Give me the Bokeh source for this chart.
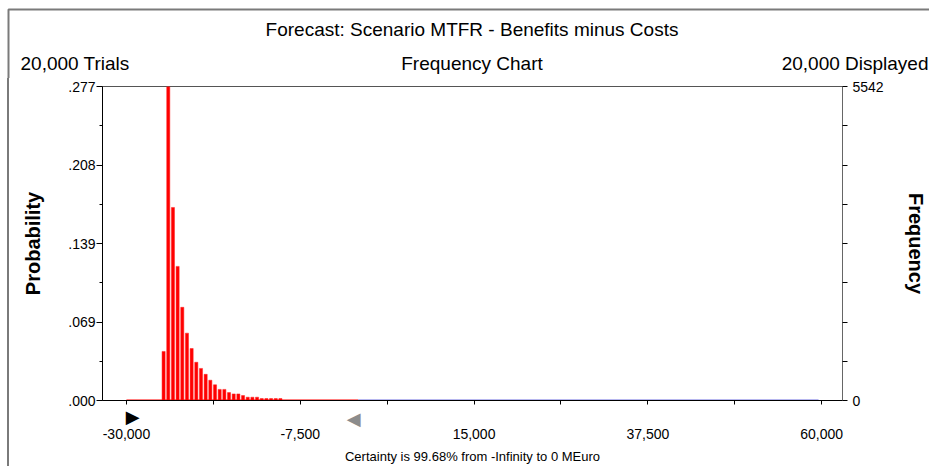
from bokeh.plotting import figure
from bokeh.layouts import column, row
from bokeh.models import Range1d, FixedTicker, LinearAxis, NumeralTickFormatter, Spacer
from bokeh.core.properties import value
from bokeh.embed import file_html
from bokeh.resources import INLINE

# ---------------- data ----------------
trials = 20000
displayed = 20000
bin_centers = [-25190, -24585, -23980, -23375, -22770, -22165, -21560, -20955,
               -20350, -19745, -19140, -18535, -17930, -17325, -16720, -16115,
               -15510, -14905, -14300, -13695, -13090, -12485, -11880, -11275,
               -10670, -10065]
frequencies = [866, 5542, 3407, 2367, 1645, 1189, 918, 675, 566, 462, 358, 277,
               196, 196, 139, 116, 116, 87, 58, 58, 58, 35, 35, 35, 35, 35]
max_freq = 5542
x_ticks = [-30000, -7500, 15000, 37500, 60000]
x_minor_ticks = [-18750, 3750, 26250, 48750]
prob_tick_labels = [".000", ".069", ".139", ".208", ".277"]
range_low = -30000        # left grabber (-Infinity shown at display min)
certainty_high = 0        # right grabber
display_high = 59600
x_view = (-33100, 62700)

title_text = "Forecast: Scenario MTFR - Benefits minus Costs"
left_sub = "20,000 Trials"
center_sub = "Frequency Chart"
right_sub = "20,000 Displayed"
certainty_text = "Certainty is 99.68% from -Infinity to 0 MEuro"

FONT = "Liberation Sans"
FRAME_GREY = "#7a7a7a"
TOTAL_W, TOTAL_H = 929, 466
HEAD_H = 78
STRIP_W = 10

# ---------------- header (titles + outer frame) ----------------
head = figure(width=TOTAL_W, height=HEAD_H, output_backend="svg", toolbar_location=None,
              x_range=Range1d(0, TOTAL_W), y_range=Range1d(HEAD_H, 0),
              x_axis_type=None, y_axis_type=None, title=None, min_border=0)
head.outline_line_color = None
head.xgrid.visible = False
head.ygrid.visible = False
head.line(x=[8, 8, TOTAL_W], y=[HEAD_H + 5, 9, 9], line_color=FRAME_GREY, line_width=2)
txt = dict(text_baseline="middle", text_font=value(FONT), text_font_size="19px",
           text_color="black")
head.text(x=[471.5], y=[29], text=[title_text], text_align="center", **txt)
head.text(x=[471.5], y=[63], text=[center_sub], text_align="center", **txt)
head.text(x=[20], y=[63], text=[left_sub], text_align="left", **txt)
head.text(x=[928], y=[63], text=[right_sub], text_align="right", **txt)

# ---------------- left strip (outer frame line, drawn with CSS) ----------------
MAIN_H = TOTAL_H - HEAD_H
strip = Spacer(width=STRIP_W, height=MAIN_H,
               styles={"background": "linear-gradient(to right, white 0px, white 7px, "
                                     "#7a7a7a 7px, #7a7a7a 9px, white 9px, white 10px)"})

# ---------------- main chart ----------------
MAIN_W = TOTAL_W - STRIP_W
p = figure(width=MAIN_W, height=MAIN_H, output_backend="svg", toolbar_location=None,
           x_range=Range1d(*x_view), y_range=Range1d(0, max_freq), title=None,
           min_border_left=102 - STRIP_W, min_border_right=TOTAL_W - 843,
           min_border_top=86 - HEAD_H, min_border_bottom=TOTAL_H - 406)
p.background_fill_color = "white"
p.border_fill_color = "white"
p.outline_line_color = "#555555"
p.outline_line_width = 1
p.xgrid.visible = False
p.ygrid.visible = False

# bars
p.vbar(x=bin_centers, top=frequencies, width=400, fill_color="#ff0000",
       line_color="#ff2020", line_width=0.5)

# certainty baseline
p.line(x=[range_low, certainty_high], y=[0, 0], line_color="#ff0000", line_width=2)
p.line(x=[certainty_high, display_high], y=[0, 0], line_color="#7070e0", line_width=2)

# axis A: axis line, tick marks and the left (black) grabber
xa = p.xaxis[0]
xa.ticker = FixedTicker(ticks=[range_low], minor_ticks=x_ticks + x_minor_ticks)
xa.major_label_overrides = {range_low: "\u2002\u2009\u25B6"}
xa.axis_line_color = "black"
xa.major_tick_in = 0
xa.major_tick_out = 0
xa.minor_tick_in = 0
xa.minor_tick_out = 4
xa.minor_tick_line_color = "black"
xa.major_label_standoff = 1
xa.major_label_text_font = "DejaVu Sans"
xa.major_label_text_font_size = "18px"
xa.major_label_text_color = "black"

# axis B: the right (grey) grabber, pulled up beside the black one
xb = LinearAxis(ticker=FixedTicker(ticks=[certainty_high], minor_ticks=[]))
xb.major_label_overrides = {certainty_high: "\u25C0\u2002"}
xb.axis_line_color = None
xb.major_tick_line_color = None
xb.minor_tick_line_color = None
xb.major_tick_in = 0
xb.major_tick_out = 0
xb.major_label_standoff = -22
xb.major_label_text_font = "DejaVu Sans"
xb.major_label_text_font_size = "18px"
xb.major_label_text_color = "#8c8c8c"
p.add_layout(xb, "below")

# axis C: numeric tick labels and certainty text
xc = LinearAxis(ticker=FixedTicker(ticks=x_ticks, minor_ticks=[]))
xc.formatter = NumeralTickFormatter(format="0,0")
xc.axis_line_color = None
xc.major_tick_line_color = None
xc.minor_tick_line_color = None
xc.major_tick_in = 0
xc.major_tick_out = 0
xc.major_label_standoff = -3
xc.major_label_text_font = FONT
xc.major_label_text_font_size = "14px"
xc.major_label_text_color = "black"
xc.axis_label = certainty_text
xc.axis_label_text_font = FONT
xc.axis_label_text_font_size = "13px"
xc.axis_label_text_font_style = "normal"
xc.axis_label_text_color = "black"
xc.axis_label_standoff = 7
p.add_layout(xc, "below")

# left axis (probability)
ya = p.yaxis[0]
left_ticks = [max_freq * k / 4 for k in range(5)]
left_minor = [max_freq * (2 * k + 1) / 8 for k in range(4)]
ya.ticker = FixedTicker(ticks=left_ticks, minor_ticks=left_minor)
ya.major_label_overrides = {t: lab for t, lab in zip(left_ticks, prob_tick_labels)}
ya.axis_line_color = "black"
ya.major_tick_in = 0
ya.minor_tick_in = 0
ya.major_tick_out = 6
ya.minor_tick_out = 3
ya.major_label_standoff = 1
ya.major_label_text_font = FONT
ya.major_label_text_font_size = "14px"
ya.major_label_text_color = "black"
ya.axis_label = "Probability"
ya.axis_label_text_font = FONT
ya.axis_label_text_font_size = "20px"
ya.axis_label_text_font_style = "bold"
ya.axis_label_text_color = "black"
ya.axis_label_standoff = 21

# right axis (frequency)
right_ticks = [max_freq * k / 8 for k in range(9)]
ra = LinearAxis(ticker=FixedTicker(ticks=right_ticks, minor_ticks=[]))
ra.major_label_overrides = {t: ("" if 0 < t < max_freq else str(int(t))) for t in right_ticks}
ra.axis_line_color = "#666666"
ra.major_tick_in = 0
ra.major_tick_out = 5
ra.minor_tick_out = 0
ra.major_label_standoff = 5
ra.major_label_text_font = FONT
ra.major_label_text_font_size = "14px"
ra.major_label_text_color = "black"
ra.axis_label = "Frequency"
ra.axis_label_text_font = FONT
ra.axis_label_text_font_size = "20px"
ra.axis_label_text_font_style = "bold"
ra.axis_label_text_color = "black"
ra.axis_label_standoff = 18
p.add_layout(ra, "right")

layout = column(head, row(strip, p, spacing=0), spacing=0)
open("out.html", "w").write(file_html(layout, INLINE))
